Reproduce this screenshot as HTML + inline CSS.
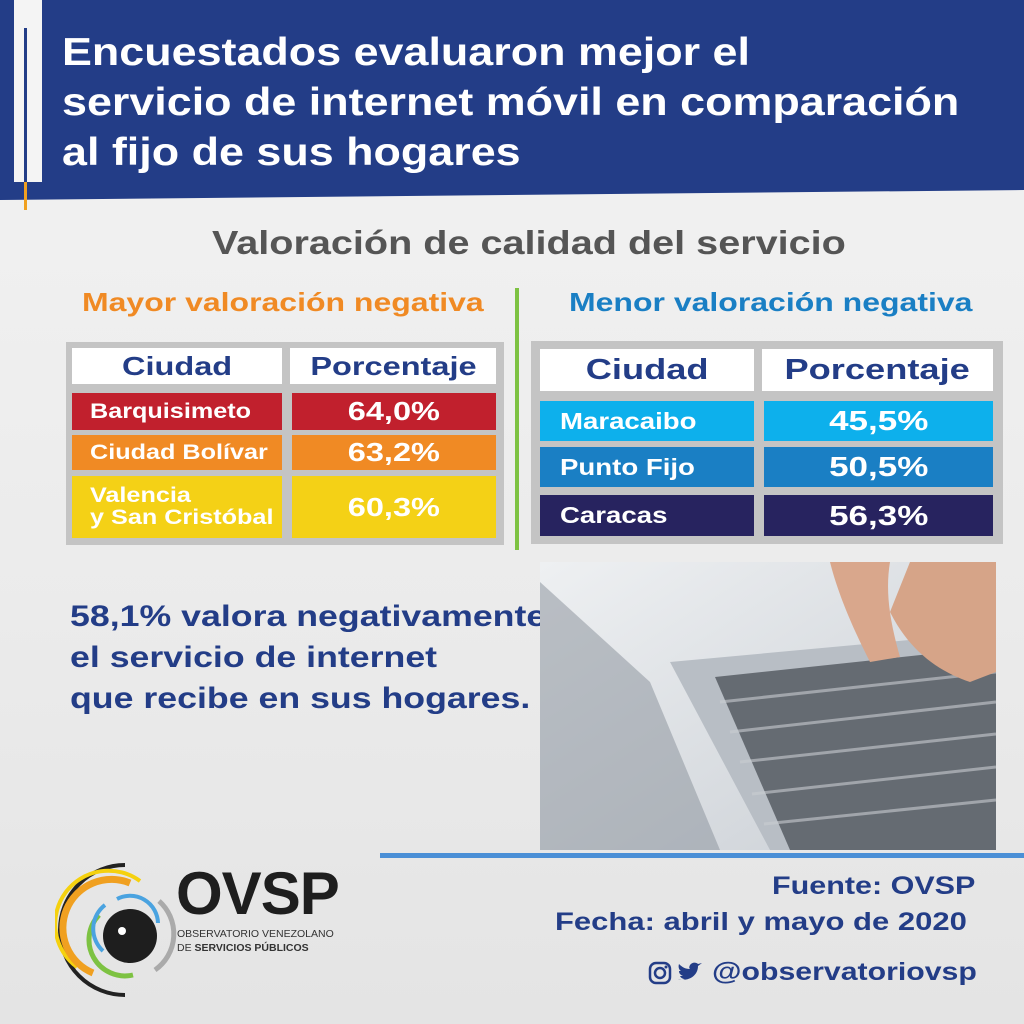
<!DOCTYPE html>
<html><head><meta charset="utf-8"><style>
*{margin:0;padding:0;box-sizing:border-box}
body{width:1024px;height:1024px;overflow:hidden;position:relative;font-family:"Liberation Sans","DejaVu Sans",sans-serif;background:linear-gradient(180deg,#f3f3f3 0%,#ebebeb 60%,#e4e4e4 100%)}
.a{position:absolute}
.t{font-weight:bold;white-space:nowrap;transform-origin:left top}
.c{position:absolute;color:#fff;font-weight:bold;display:flex;align-items:center;white-space:nowrap}
.s{display:inline-block;transform:scaleX(1.2);transform-origin:left center}
.m{display:inline-block;transform:scaleX(1.25);transform-origin:center center}
</style></head><body>
<svg class="a" style="left:0;top:0" width="1024" height="210"><polygon points="0,0 1024,0 1024,190 0,200" fill="#233d87"/>
<rect x="14" y="0" width="28" height="182" fill="#f4f4f4"/><rect x="24" y="28" width="3" height="154" fill="#233d87"/>
<rect x="24" y="182" width="3" height="28" fill="#f0a020"/></svg>
<div class="a t" style="left:62px;top:28px;color:#fff;font-size:39px;line-height:50px;transform:scaleX(1.15)">Encuestados evaluaron mejor el<br>servicio de internet móvil en comparación<br>al fijo de sus hogares</div>
<div class="a t" style="left:212px;top:224px;color:#555;font-size:33px;transform:scaleX(1.2)">Valoración de calidad del servicio</div>
<div class="a t" style="left:82px;top:287px;color:#f08a24;font-size:26px;transform:scaleX(1.23)">Mayor valoración negativa</div>
<div class="a t" style="left:569px;top:287px;color:#1a7fc4;font-size:26px;transform:scaleX(1.23)">Menor valoración negativa</div>
<div class="a" style="left:515px;top:288px;width:4px;height:262px;background:#7dc242"></div>

<div class="a" style="left:66px;top:342px;width:438px;height:203px;background:#c4c4c4"></div>
<div class="c" style="left:72px;top:348px;width:210px;height:36px;background:#fff;color:#233d87;font-size:26px;justify-content:center"><span class="m">Ciudad</span></div>
<div class="c" style="left:290px;top:348px;width:206px;height:36px;background:#fff;color:#233d87;font-size:26px;justify-content:center"><span class="m">Porcentaje</span></div>
<div class="c" style="left:72px;top:393px;width:210px;height:37px;background:#c1202d;font-size:21px;padding-left:18px"><span class="s">Barquisimeto</span></div>
<div class="c" style="left:292px;top:393px;width:204px;height:37px;background:#c1202d;font-size:26px;justify-content:center"><span class="m">64,0%</span></div>
<div class="c" style="left:72px;top:435px;width:210px;height:35px;background:#f08a24;font-size:21px;padding-left:18px"><span class="s">Ciudad Bolívar</span></div>
<div class="c" style="left:292px;top:435px;width:204px;height:35px;background:#f08a24;font-size:26px;justify-content:center"><span class="m">63,2%</span></div>
<div class="c" style="left:72px;top:476px;width:210px;height:62px;background:#f4d116;font-size:21px;padding-left:18px;line-height:22px"><span class="s">Valencia<br>y San Cristóbal</span></div>
<div class="c" style="left:292px;top:476px;width:204px;height:62px;background:#f4d116;font-size:26px;justify-content:center"><span class="m">60,3%</span></div>

<div class="a" style="left:531px;top:341px;width:472px;height:203px;background:#c4c4c4"></div>
<div class="c" style="left:540px;top:349px;width:214px;height:42px;background:#fff;color:#233d87;font-size:29px;justify-content:center"><span class="m">Ciudad</span></div>
<div class="c" style="left:762px;top:349px;width:231px;height:42px;background:#fff;color:#233d87;font-size:29px;justify-content:center"><span class="m">Porcentaje</span></div>
<div class="c" style="left:540px;top:401px;width:214px;height:40px;background:#0db0ec;font-size:23px;padding-left:20px"><span class="s">Maracaibo</span></div>
<div class="c" style="left:764px;top:401px;width:229px;height:40px;background:#0db0ec;font-size:28px;justify-content:center"><span class="m">45,5%</span></div>
<div class="c" style="left:540px;top:447px;width:214px;height:40px;background:#1a7fc4;font-size:23px;padding-left:20px"><span class="s">Punto Fijo</span></div>
<div class="c" style="left:764px;top:447px;width:229px;height:40px;background:#1a7fc4;font-size:28px;justify-content:center"><span class="m">50,5%</span></div>
<div class="c" style="left:540px;top:495px;width:214px;height:41px;background:#27235f;font-size:23px;padding-left:20px"><span class="s">Caracas</span></div>
<div class="c" style="left:764px;top:495px;width:229px;height:41px;background:#27235f;font-size:28px;justify-content:center"><span class="m">56,3%</span></div>

<div class="a t" style="left:70px;top:596px;color:#233d87;font-size:30px;line-height:41px;transform:scaleX(1.19)">58,1% valora negativamente<br>el servicio de internet<br>que recibe en sus hogares.</div>

<svg class="a" style="left:540px;top:562px" width="456" height="288">
<defs><linearGradient id="g" x1="0" y1="0" x2="1" y2="1"><stop offset="0" stop-color="#eef0f2"/><stop offset="1" stop-color="#c9ced4"/></linearGradient></defs>
<rect width="456" height="288" fill="url(#g)"/>
<polygon points="0,20 110,120 180,288 0,288" fill="#8e969e" opacity="0.55"/>
<polygon points="130,100 456,70 456,288 230,288" fill="#b8bec5"/>
<polygon points="175,115 456,85 456,288 250,288" fill="#4a4f55" opacity="0.75"/>
<g stroke="#c9cdd2" stroke-width="3" opacity="0.6">
<line x1="180" y1="140" x2="456" y2="110"/><line x1="190" y1="170" x2="456" y2="140"/><line x1="200" y1="200" x2="456" y2="172"/><line x1="212" y1="232" x2="456" y2="205"/><line x1="224" y1="262" x2="456" y2="238"/></g>
<path d="M290,0 C300,40 320,80 330,100 L360,95 C350,60 345,30 350,0Z" fill="#d9a78c"/>
<path d="M350,50 C370,90 400,110 430,120 L456,110 L456,0 L370,0Z" fill="#d6a488"/>
</svg>

<div class="a" style="left:380px;top:853px;width:644px;height:5px;background:#4a8fd6"></div>

<svg class="a" style="left:55px;top:855px" width="130" height="150" viewBox="0 0 130 150">
<g fill="none" stroke-linecap="butt">
<path d="M 70,10 A 62 62 0 1 0 70,140" stroke="#222" stroke-width="4"/>
<path d="M 85,26 A 48 48 0 0 0 22,112" stroke="#f5d10f" stroke-width="4"/>
<path d="M 75,28 A 42 42 0 0 0 38,118" stroke="#f0a020" stroke-width="7"/>
<path d="M 44,60 A 36 36 0 0 0 78,120" stroke="#7dc242" stroke-width="5"/>
<path d="M 62,44 A 28 28 0 0 1 103,68" stroke="#4aa3e0" stroke-width="4"/>
<path d="M 48,96 A 30 30 0 0 1 50,50" stroke="#4aa3e0" stroke-width="4"/>
<path d="M 104,46 A 44 44 0 0 1 100,115" stroke="#aaa" stroke-width="5"/>
</g>
<circle cx="75" cy="81" r="27" fill="#1e1e1e"/><circle cx="67" cy="76" r="4" fill="#fff"/>
</svg>
<div class="a t" style="left:176px;top:862px;font-size:60px;color:#1e1e1e;letter-spacing:-1px;line-height:64px">OVSP</div>
<div class="a" style="left:177px;top:928px;font-size:10.5px;color:#333;white-space:nowrap">OBSERVATORIO VENEZOLANO</div>
<div class="a" style="left:177px;top:942px;font-size:10.5px;color:#333;white-space:nowrap">DE <b>SERVICIOS PÚBLICOS</b></div>

<div class="a t" style="left:772px;top:872px;color:#233d87;font-size:25px;transform:scaleX(1.22)">Fuente: OVSP</div>
<div class="a t" style="left:555px;top:908px;color:#233d87;font-size:25px;transform:scaleX(1.24)">Fecha: abril y mayo de 2020</div>
<svg class="a" style="left:648px;top:960px" width="60" height="26"><rect x="2" y="3" width="20" height="20" rx="6" fill="none" stroke="#233d87" stroke-width="2.5"/><circle cx="12" cy="13" r="5" fill="none" stroke="#233d87" stroke-width="2.5"/><circle cx="18" cy="7" r="1.5" fill="#233d87"/>
<path d="M30,19 C40,22 50,16 50,6 L54,3 L50,4 C48,2 44,2 42,5 C41,7 41,8 42,9 C37,9 34,7 31,4 C30,7 31,10 33,11 L31,11 C31,14 33,15 35,16 L32,16 C33,18 35,19 37,19 C35,20 32,20 30,19Z" fill="#233d87"/></svg>
<div class="a t" style="left:712px;top:958px;color:#233d87;font-size:25px;transform:scaleX(1.21)">@observatoriovsp</div>
</body></html>
